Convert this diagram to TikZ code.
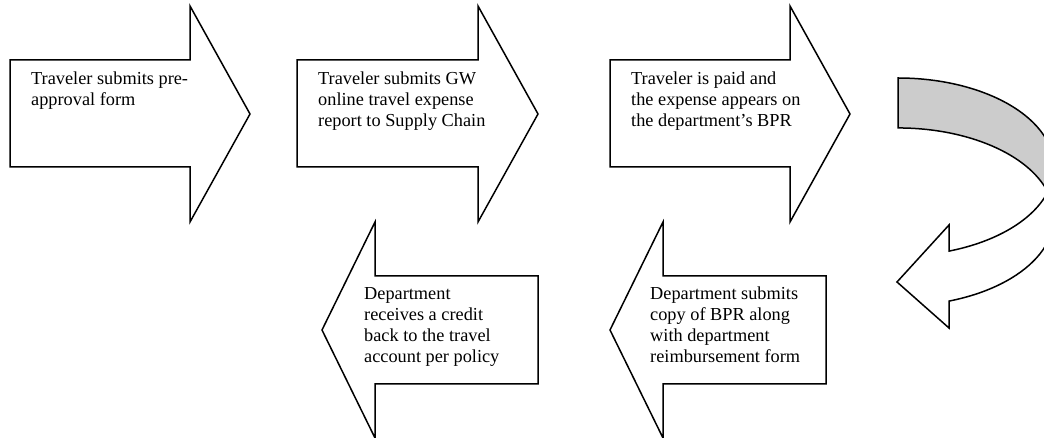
\documentclass[tikz,border=0pt]{standalone}
\usepackage{fontspec}
\setmainfont{Liberation Serif}
\definecolor{bandgray}{RGB}{204,204,204}
\begin{document}
\begin{tikzpicture}[x=1pt,y=1pt,
  shapeline/.style={draw=black,line width=1.5pt,line join=miter},
  label/.style={anchor=base west,align=left,inner sep=0pt,font=\fontsize{18.3}{21}\selectfont}]
\useasboundingbox (0,0) rectangle (1044,438);
\clip (0,0) rectangle (1044,438);
% right-pointing block arrows
\draw[shapeline,fill=white] (10,378) -- (190,378) -- (190,432) -- (250,324) -- (190,216) -- (190,271) -- (10,271) -- cycle;
\draw[shapeline,fill=white] (297,378) -- (478,378) -- (478,432) -- (538,324) -- (478,216) -- (478,271) -- (297,271) -- cycle;
\draw[shapeline,fill=white] (610,378) -- (790,378) -- (790,432) -- (850,324) -- (790,216) -- (790,271) -- (610,271) -- cycle;
% left-pointing block arrows
\draw[shapeline,fill=white] (538,162) -- (375,162) -- (375,216) -- (322,108) -- (375,0) -- (375,54) -- (538,54) -- cycle;
\draw[shapeline,fill=white] (826,162) -- (663,162) -- (663,216) -- (610,108) -- (663,0) -- (663,54) -- (826,54) -- cycle;
% curved arrow: back band
\draw[shapeline,fill=bandgray] (898,360) arc[start angle=90,end angle=-16.3,x radius=156,y radius=89]
  arc[start angle=16.3,end angle=90,x radius=156,y radius=89] -- cycle;
% curved arrow: front band with head
\draw[shapeline,fill=white] (898,271) ++(-16.3:156 and 89) arc[start angle=-16.3,end angle=-70.9,x radius=156,y radius=89]
  -- (949,213) -- (897,156) -- (949,110) -- (949,136.9)
  arc[start angle=-70.9,end angle=16.3,x radius=156,y radius=89] -- cycle;
% texts (base anchor = baseline of the last line)
\node[label] (t1) at (31,332.5) {Traveler submits pre-\\approval form};
\node[label] (t2) at (318,311.5) {Traveler submits GW\\online travel expense\\report to Supply Chain};
\node[label] (t3) at (631,311.5) {Traveler is paid and\\the expense appears on\\the department’s BPR};
\node[label] (t4) at (364,75) {Department\\receives a credit\\back to the travel\\account per policy};
\node[label] (t5) at (650,75) {Department submits\\copy of BPR along\\with department\\reimbursement form};
\end{tikzpicture}
\end{document}
